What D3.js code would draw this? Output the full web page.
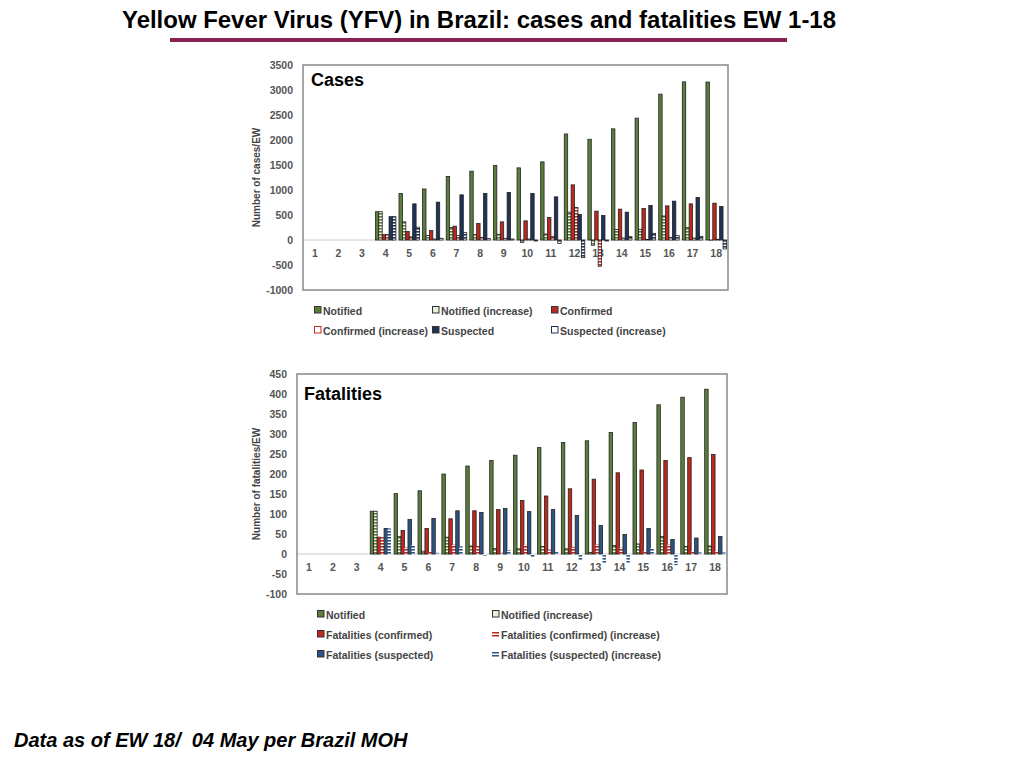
<!DOCTYPE html>
<html>
<meta charset='utf-8'>
<head>
<title>Yellow Fever Virus in Brazil</title>
<script src='https://d3js.org/d3.v7.min.js'></script>
<style>
  body { margin: 0; background: #fff; }
  text { font-family: 'Liberation Sans', Arial, sans-serif; }
</style>
</head>

<body>
<div id='my_dataviz'></div>
<script>
// epidemiological weeks
var weeks = ['1','2','3','4','5','6','7','8','9','10','11','12','13','14','15','16','17','18']

// cases per EW
var casesNotified      = [0,0,0,566,930,1020,1270,1377,1490,1443,1563,2120,2015,2223,2437,2917,3163,3160]
var casesNotifiedInc   = [0,0,0,566,364,90,250,107,113,-47,120,557,-105,208,214,480,246,-3]
var casesConfirmed     = [0,0,0,107,170,190,277,330,363,383,450,1103,577,617,630,683,723,737]
var casesConfirmedInc  = [0,0,0,107,63,20,87,53,33,20,67,653,-526,40,13,53,40,14]
var casesSuspected     = [0,0,0,467,723,757,903,930,950,930,863,510,490,557,690,777,850,670]
var casesSuspectedInc  = [0,0,0,467,256,34,146,27,20,-20,-67,-353,-20,67,133,87,73,-180]

// fatalities per EW
var fatNotified        = [0,0,0,107,151,158,200,220,234,247,266,279,283,304,329,373,392,412]
var fatNotifiedInc     = [0,0,0,107,44,7,42,20,14,13,19,13,4,21,25,44,19,20]
var fatConfirmed       = [0,0,0,42,59,64,88,108,111,134,145,163,187,203,210,234,241,249]
var fatConfirmedInc    = [0,0,0,42,17,5,24,20,3,23,11,18,24,16,7,24,7,8]
var fatSuspected       = [0,0,0,64,86,89,108,104,114,106,111,96,71,49,64,36,40,44]
var fatSuspectedInc    = [0,0,0,64,22,3,19,-4,10,-8,5,-15,-25,-22,15,-28,4,4]

var casesTicks = [-1000,-500,0,500,1000,1500,2000,2500,3000,3500]
var fatTicks = [-100,-50,0,50,100,150,200,250,300,350,400,450]

var green = '#5b7f3a', red = '#c0281e', navy = '#1f3358', blue = '#2c5385'

var svg = d3.select('#my_dataviz')
  .append('svg')
    .attr('width', 1024)
    .attr('height', 768)

// striped fills for the "increase" series
var defs = svg.append('defs')
function stripes(id, color) {
  var p = defs.append('pattern')
    .attr('id', id)
    .attr('patternUnits', 'userSpaceOnUse')
    .attr('width', 6)
    .attr('height', 3)
  p.append('rect').attr('width', 6).attr('height', 3).attr('fill', 'white')
  p.append('rect').attr('width', 6).attr('height', 1.6).attr('fill', color)
}
stripes('strGreen', green)
stripes('strRed', red)
stripes('strNavy', navy)
stripes('strBlue', blue)

// title
svg.append('text')
  .attr('x', 122)
  .attr('y', 28)
  .attr('textLength', 714)
  .attr('lengthAdjust', 'spacingAndGlyphs')
  .style('font-family', "'Liberation Sans Narrow', 'Liberation Sans', Arial, sans-serif")
  .style('font-weight', 'bold')
  .style('font-size', '23px')
  .attr('fill', '#000')
  .text('Yellow Fever Virus (YFV) in Brazil: cases and fatalities EW 1-18')
svg.append('rect')
  .attr('x', 170).attr('y', 38)
  .attr('width', 617).attr('height', 4)
  .attr('fill', '#8b2150')

// footer
svg.append('text')
  .attr('x', 14)
  .attr('y', 747)
  .style('font-weight', 'bold')
  .style('font-style', 'italic')
  .style('font-size', '20px')
  .style('white-space', 'pre')
  .attr('fill', '#000')
  .text('Data as of EW 18/  04 May per Brazil MOH')

function drawChart(cfg) {
  var g = svg.append('g')

  var x = d3.scaleBand()
    .domain(weeks)
    .range([cfg.left, cfg.right])
  var inner = d3.scaleBand()
    .domain(cfg.series.map(function(s) { return s.name }))
    .range([0, x.bandwidth()])
    .paddingOuter(0.45)
  var y = d3.scaleLinear()
    .domain([cfg.ticks[0], cfg.ticks[cfg.ticks.length - 1]])
    .range([cfg.bottom, cfg.top])

  // y tick labels, plain numbers with a hyphen minus
  var yAxis = g.append('g')
    .attr('transform', 'translate(' + (cfg.left - 2) + ',0)')
    .call(d3.axisLeft(y).tickValues(cfg.ticks).tickSize(0).tickPadding(8)
      .tickFormat(function(d) { return String(d) }))
  yAxis.select('.domain').remove()
  yAxis.selectAll('text')
    .style('font-family', "'Liberation Sans', Arial, sans-serif")
    .style('font-weight', 'bold')
    .style('font-size', '10.5px')
    .attr('fill', '#555')

  // y axis title
  g.append('text')
    .attr('transform', 'translate(' + cfg.titleX + ',' + ((cfg.top + cfg.bottom) / 2) + ') rotate(-90)')
    .style('text-anchor', 'middle')
    .style('font-weight', 'bold')
    .style('font-size', '10px')
    .attr('fill', '#444')
    .text(cfg.yTitle)

  // zero line
  g.append('line')
    .attr('x1', cfg.left).attr('x2', cfg.right)
    .attr('y1', y(0)).attr('y2', y(0))
    .attr('stroke', '#ccc')
    .attr('stroke-width', 1)

  // week labels (below the zero line, under the bars)
  g.selectAll('.wk')
    .data(weeks)
    .enter()
    .append('text')
    .attr('x', function(d) { return x(d) + x.bandwidth() / 2 })
    .attr('y', y(0) + 17)
    .style('text-anchor', 'middle')
    .style('font-weight', 'bold')
    .style('font-size', '10.5px')
    .attr('fill', '#555')
    .text(function(d) { return d })

  // bars
  cfg.series.forEach(function(s) {
    g.append('g')
      .selectAll('rect')
      .data(s.values)
      .enter()
      .append('rect')
      .attr('x', function(d, i) { return x(weeks[i]) + inner(s.name) })
      .attr('y', function(d) { return y(Math.max(0, d)) })
      .attr('width', inner.bandwidth())
      .attr('height', function(d) { return Math.abs(y(d) - y(0)) })
      .attr('fill', s.fill)
      .attr('stroke', s.stroke)
      .attr('stroke-width', s.stroke === 'none' ? 0 : 0.8)
  })

  // frame
  g.append('rect')
    .attr('x', cfg.left).attr('y', cfg.top)
    .attr('width', cfg.right - cfg.left)
    .attr('height', cfg.bottom - cfg.top)
    .attr('fill', 'none')
    .attr('stroke', '#888')
    .attr('stroke-width', 1.5)

  // chart label
  g.append('text')
    .attr('x', cfg.labelX)
    .attr('y', cfg.labelY)
    .style('font-weight', 'bold')
    .style('font-size', '18px')
    .attr('fill', '#000')
    .text(cfg.label)

  // legend
  cfg.series.forEach(function(s, i) {
    var lx = cfg.legendCols[i % cfg.legendCols.length]
    var ly = cfg.legendRow0 + Math.floor(i / cfg.legendCols.length) * 20
    if (s.legendLines) {
      g.append('rect').attr('x', lx).attr('y', ly - 7).attr('width', 7).attr('height', 1.5).attr('fill', s.color)
      g.append('rect').attr('x', lx).attr('y', ly - 4).attr('width', 7).attr('height', 1.5).attr('fill', s.color)
    } else {
      g.append('rect')
        .attr('x', lx + 0.5).attr('y', ly - 8.5)
        .attr('width', 6.5).attr('height', 6.5)
        .attr('fill', s.legendFill)
        .attr('stroke', s.legendStroke)
        .attr('stroke-width', 1)
    }
    g.append('text')
      .attr('x', lx + 9)
      .attr('y', ly)
      .style('font-weight', 'bold')
      .style('font-size', '10.5px')
      .attr('fill', '#444')
      .text(s.name)
  })
}

drawChart({
  left: 303, right: 728, top: 65, bottom: 290,
  ticks: casesTicks,
  titleX: 260,
  yTitle: 'Number of cases/EW',
  label: 'Cases', labelX: 311, labelY: 86,
  legendCols: [314, 432, 551], legendRow0: 315,
  series: [
    {name: 'Notified', values: casesNotified, fill: green, stroke: '#222', legendFill: green, legendStroke: '#333'},
    {name: 'Notified (increase)', values: casesNotifiedInc, fill: 'url(#strGreen)', stroke: '#222', legendFill: '#e6efd9', legendStroke: '#333'},
    {name: 'Confirmed', values: casesConfirmed, fill: red, stroke: '#222', legendFill: red, legendStroke: '#333'},
    {name: 'Confirmed (increase)', values: casesConfirmedInc, fill: 'url(#strRed)', stroke: '#222', legendFill: '#fff', legendStroke: red},
    {name: 'Suspected', values: casesSuspected, fill: navy, stroke: '#222', legendFill: navy, legendStroke: '#333'},
    {name: 'Suspected (increase)', values: casesSuspectedInc, fill: 'url(#strNavy)', stroke: '#222', legendFill: '#fff', legendStroke: navy}
  ]
})

drawChart({
  left: 297, right: 727, top: 374, bottom: 594,
  ticks: fatTicks,
  titleX: 260,
  yTitle: 'Number of fatalities/EW',
  label: 'Fatalities', labelX: 304, labelY: 400,
  legendCols: [317, 492], legendRow0: 619,
  series: [
    {name: 'Notified', values: fatNotified, fill: green, stroke: '#222', legendFill: green, legendStroke: '#333'},
    {name: 'Notified (increase)', values: fatNotifiedInc, fill: 'url(#strGreen)', stroke: '#222', legendFill: '#e6efd9', legendStroke: '#333'},
    {name: 'Fatalities (confirmed)', values: fatConfirmed, fill: red, stroke: '#222', legendFill: red, legendStroke: '#333'},
    {name: 'Fatalities (confirmed) (increase)', values: fatConfirmedInc, fill: 'url(#strRed)', stroke: 'none', color: red, legendLines: true},
    {name: 'Fatalities (suspected)', values: fatSuspected, fill: blue, stroke: '#222', legendFill: blue, legendStroke: '#333'},
    {name: 'Fatalities (suspected) (increase)', values: fatSuspectedInc, fill: 'url(#strBlue)', stroke: 'none', color: blue, legendLines: true}
  ]
})
</script>
</body>
</html>
